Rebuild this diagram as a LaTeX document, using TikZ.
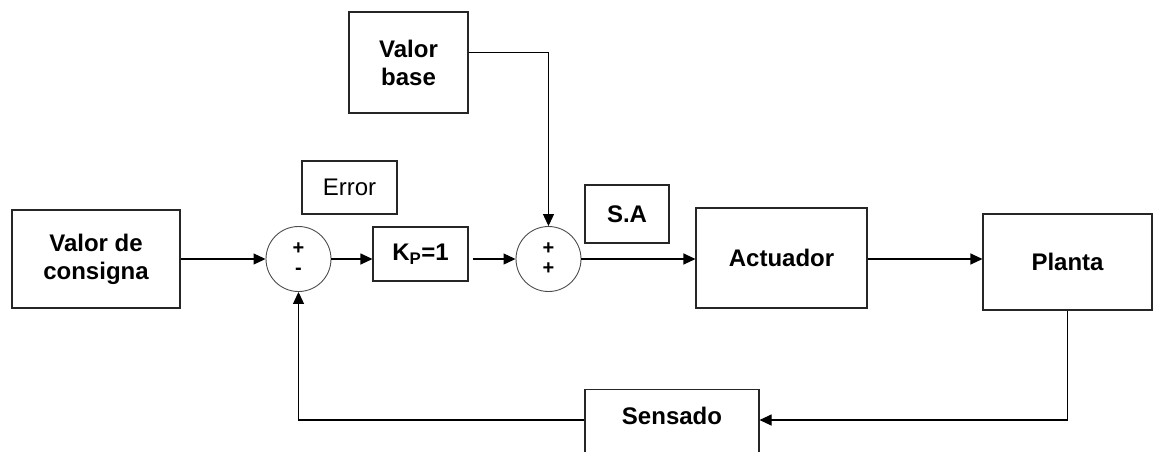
\documentclass[tikz,border=0pt]{standalone}
\usepackage{fontspec}
\setmainfont{Liberation Sans}
\usetikzlibrary{arrows.meta}
\tikzset{
  blk/.style={draw=black!85, line width=1.1pt, rectangle, inner sep=0pt, align=center,
    font=\fontsize{24}{28}\selectfont\bfseries},
  sumnode/.style={draw=black!70, line width=0.9pt, circle, inner sep=0pt, minimum size=65pt,
    align=center, font=\fontsize{20}{20}\selectfont\bfseries},
  conn/.style={line width=1.1pt, draw=black},
  arr/.style={conn, -{Triangle[length=12pt,width=11pt]}}
}
\begin{document}
\begin{tikzpicture}[x=1pt,y=-1pt]
\useasboundingbox (0,0) rectangle (1154,451);
\clip (0,0) rectangle (1154,451);
% blocks
\node[blk, minimum width=168pt, minimum height=98pt] (consigna) at (96,259) {Valor de\\consigna};
\node[sumnode] (sum1) at (298.5,259) {+\\-};
\node[blk, minimum width=95pt, minimum height=53pt, font=\fontsize{24}{28}\selectfont] (error) at (349.5,187.5) {Error};
\node[blk, minimum width=95pt, minimum height=54pt] (kp) at (420.5,254) {K\textsubscript{P}=1};
\node[blk, minimum width=119pt, minimum height=101pt] (vbase) at (408.5,62.5) {Valor\\base};
\node[sumnode] (sum2) at (548.5,259) {+\\+};
\node[blk, minimum width=84pt, minimum height=58pt] (sa) at (627,214) {S.A};
\node[blk, minimum width=171pt, minimum height=100pt] (act) at (781.5,258) {Actuador};
\node[blk, minimum width=169pt, minimum height=96pt] (planta) at (1067.5,262) {Planta};
\node[blk, minimum width=174pt, text height=35pt, text depth=60pt, anchor=north] (sens) at (672,389) {Sensado};
% connectors
\draw[arr] (consigna.east |- sum1.west) -- (sum1.west);
\draw[arr] (sum1.east) -- (sum1.east -| kp.west);
\draw[arr] ([xshift=4pt]sum2.west -| kp.east) -- (sum2.west);
\draw[arr] ([yshift=10pt]vbase.east) -| (sum2.north);
\draw[arr] (sum2.east) -- (sum2.east -| act.west);
\draw[arr] (act.east |- sum2.east) -- (sum2.east -| planta.west);
\draw[arr] (planta.south) |- ([yshift=-31pt]sens.north east);
\draw[arr] ([yshift=-31pt]sens.north west) -| (sum1.south);
\end{tikzpicture}
\end{document}
